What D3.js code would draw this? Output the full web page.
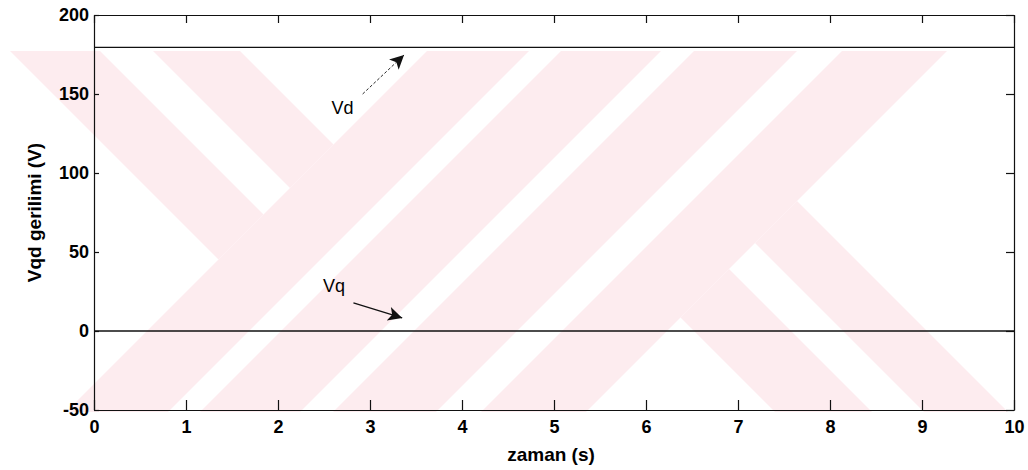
<!DOCTYPE html>
<html>
<head>
<meta charset="utf-8">
<script src="https://cdn.jsdelivr.net/npm/d3@7"></script>
<style>
  body { margin: 0; background: #fff; }
  svg { display: block; font-family: "Liberation Sans", Arial, Helvetica, sans-serif; }
</style>
</head>
<body>
<svg id="fig_vqd" width="1028" height="470"></svg>
<script>

// time samples (s) and the two voltage components (V)
var zaman = [0, 1, 2, 3, 4, 5, 6, 7, 8, 9, 10];
var vd    = [179.5, 179.5, 179.5, 179.5, 179.5, 179.5, 179.5, 179.5, 179.5, 179.5, 179.5];
var vq    = [0, 0, 0, 0, 0, 0, 0, 0, 0, 0, 0];

var x_ticks = [0, 1, 2, 3, 4, 5, 6, 7, 8, 9, 10];
var y_ticks = [-50, 0, 50, 100, 150, 200];

// background stamp, as bands in rotated pixel space (u = x+y, v = x-y)
var stamp_left  = [[-41, 49], [102, 189]];                          // v ranges, u < 478
var stamp_mid   = [[478, 580], [612, 712], [745, 848], [893, 998]]; // u ranges
var stamp_right = [[363, 460], [512, 596]];                         // v ranges, u > 998

function draw_vqd(){

    var svg = d3.select("#fig_vqd");
    var m = {left: 94, right: 1014, top: 15, bottom: 410};

    var x = d3.scaleLinear().domain([0, 10]).range([m.left, m.right]);
    var y = d3.scaleLinear().domain([-50, 200]).range([m.bottom, m.top]);

    // stamp
    svg.append("clipPath").attr("id", "stamp_clip")
        .append("rect").attr("x", 0).attr("y", 51).attr("width", 1028).attr("height", 361);

    var stamp = svg.append("g").attr("clip-path", "url(#stamp_clip)")
        .append("g").attr("transform", "matrix(0.5,0.5,0.5,-0.5,0,0)")
        .style("fill", "#fdecef");

    stamp.selectAll("rect.sl").data(stamp_left).enter().append("rect")
        .attr("x", -600).attr("width", 478 + 600)
        .attr("y", function(d){ return d[0]; })
        .attr("height", function(d){ return d[1] - d[0]; });
    stamp.selectAll("rect.sm").data(stamp_mid).enter().append("rect")
        .attr("x", function(d){ return d[0]; })
        .attr("width", function(d){ return d[1] - d[0]; })
        .attr("y", -1500).attr("height", 3000);
    stamp.selectAll("rect.sr").data(stamp_right).enter().append("rect")
        .attr("x", 998).attr("width", 1500)
        .attr("y", function(d){ return d[0]; })
        .attr("height", function(d){ return d[1] - d[0]; });

    // axes, matlab style: ticks pointing inward on all four sides
    var axis_g = svg.append("g");
    var plain = function(d){ return String(d); };   // hyphen minus, like matlab

    axis_g.append("g").attr("transform", "translate(0," + m.bottom + ")")
        .call(d3.axisBottom(x).tickValues(x_ticks).tickFormat(plain).tickSizeInner(-10).tickSizeOuter(0).tickPadding(10));
    axis_g.append("g").attr("transform", "translate(0," + m.top + ")")
        .call(d3.axisTop(x).tickValues(x_ticks).tickSizeInner(-8).tickSizeOuter(0).tickFormat(""));
    axis_g.append("g").attr("transform", "translate(" + m.left + ",0)")
        .call(d3.axisLeft(y).tickValues(y_ticks).tickFormat(plain).tickSizeInner(-5).tickSizeOuter(0).tickPadding(5));
    axis_g.append("g").attr("transform", "translate(" + m.right + ",0)")
        .call(d3.axisRight(y).tickValues(y_ticks).tickSizeInner(-8).tickSizeOuter(0).tickFormat(""));

    axis_g.selectAll(".domain, .tick line").style("stroke", "#111").style("stroke-width", 1.2);
    axis_g.selectAll(".tick text")
        .style("fill", "#000")
        .style("font-family", "'Liberation Sans', Arial, sans-serif")
        .style("font-size", "18px")
        .style("font-weight", "bold");

    // lines
    var line = d3.line()
        .x(function(d, i){ return x(zaman[i]); })
        .y(function(d){ return y(d); });

    svg.append("path").datum(vd).attr("d", line)
        .style("fill", "none").style("stroke", "#111").style("stroke-width", 1.3);
    svg.append("path").datum(vq).attr("d", line)
        .style("fill", "none").style("stroke", "#111").style("stroke-width", 1.3);

    // axis titles
    svg.append("text")
        .attr("transform", "translate(" + ((m.left + m.right) / 2 - 3) + ",461)")
        .attr("text-anchor", "middle")
        .style("font-size", "19px").style("font-weight", "bold")
        .text("zaman (s)");
    svg.append("text")
        .attr("transform", "translate(41," + ((m.top + m.bottom) / 2) + ") rotate(-90)")
        .attr("text-anchor", "middle")
        .style("font-size", "19px").style("font-weight", "bold")
        .text("Vqd gerilimi (V)");

    // labels with arrows
    var defs = svg.append("defs");
    defs.append("marker").attr("id", "arr")
        .attr("viewBox", "0 0 10 10").attr("refX", 10).attr("refY", 5)
        .attr("markerWidth", 22).attr("markerHeight", 14)
        .attr("markerUnits", "userSpaceOnUse")
        .attr("orient", "auto")
        .append("path").attr("d", "M0,0 L10,5 L0,10 L2.5,5 Z").style("fill", "#111");

    svg.append("text").attr("x", x(2.70)).attr("y", y(137.5))
        .attr("text-anchor", "middle").style("font-size", "18px")
        .text("Vd");
    svg.append("line")
        .attr("x1", x(2.92)).attr("y1", y(150)).attr("x2", x(3.37)).attr("y2", y(174.7))
        .style("stroke", "#111").style("stroke-width", 0.9).style("stroke-dasharray", "3,2")
        .attr("marker-end", "url(#arr)");

    svg.append("text").attr("x", x(2.61)).attr("y", y(25))
        .attr("text-anchor", "middle").style("font-size", "18px")
        .text("Vq");
    svg.append("line")
        .attr("x1", x(2.82)).attr("y1", y(17.8)).attr("x2", x(3.35)).attr("y2", y(8.3))
        .style("stroke", "#111").style("stroke-width", 1.4)
        .attr("marker-end", "url(#arr)");
}

draw_vqd();

</script>
</body>
</html>
